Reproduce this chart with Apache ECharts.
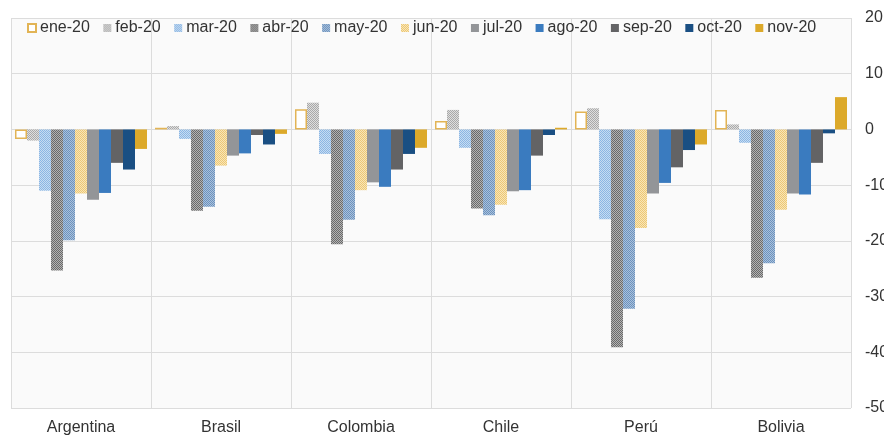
<!DOCTYPE html>
<html>
<head>
<meta charset="utf-8">
<script src="https://cdn.jsdelivr.net/npm/echarts@6/dist/echarts.min.js"></script>
<style>
  html, body { margin: 0; padding: 0; background: #ffffff; }
  #chart { width: 884px; height: 437px; }
</style>
</head>
<body>
<div id="chart"></div>
<script>
// Países y meses
const countries = ['Argentina', 'Brasil', 'Colombia', 'Chile', 'Perú', 'Bolivia'];
const months = ['ene-20', 'feb-20', 'mar-20', 'abr-20', 'may-20', 'jun-20',
                'jul-20', 'ago-20', 'sep-20', 'oct-20', 'nov-20'];

// Variación por país (Argentina, Brasil, Colombia, Chile, Perú, Bolivia)
const ene20 = [-1.7, 0.3, 3.6, 1.5, 3.2, 3.5];
const feb20 = [-2.0, 0.6, 4.8, 3.5, 3.8, 0.9];
const mar20 = [-11.0, -1.7, -4.4, -3.3, -16.1, -2.4];
const abr20 = [-25.3, -14.6, -20.6, -14.2, -39.1, -26.6];
const may20 = [-19.9, -13.9, -16.2, -15.4, -32.2, -24.0];
const jun20 = [-11.5, -6.5, -10.9, -13.5, -17.7, -14.4];
const jul20 = [-12.6, -4.7, -9.5, -11.1, -11.5, -11.5];
const ago20 = [-11.4, -4.3, -10.3, -10.9, -9.6, -11.7];
const sep20 = [-6.0, -1.0, -7.2, -4.7, -6.8, -6.0];
const oct20 = [-7.2, -2.7, -4.4, -1.0, -3.7, -0.7];
const nov20 = [-3.5, -0.8, -3.3, 0.3, -2.7, 5.8];

// Etiquetas del eje de valores
const yTicks = [20, 10, 0, -10, -20, -30, -40, -50];

const seriesValues = [ene20, feb20, mar20, abr20, may20, jun20,
                      jul20, ago20, sep20, oct20, nov20];

// Tramas a cuadros de 1px para los meses rellenos con patrón
function checker(a, b) {
  const c = document.createElement('canvas');
  c.width = 2; c.height = 2;
  const ctx = c.getContext('2d');
  ctx.fillStyle = b; ctx.fillRect(0, 0, 2, 2);
  ctx.fillStyle = a; ctx.fillRect(0, 0, 1, 1); ctx.fillRect(1, 1, 1, 1);
  return { image: c, repeat: 'repeat' };
}

const styles = [
  { color: '#ffffff', borderColor: '#e2b455', borderWidth: 1.5 },
  { color: checker('#a9a9a9', '#dedede') },
  { color: checker('#8cb6e3', '#c6dcf2') },
  { color: checker('#6a6a6a', '#b3b3b3') },
  { color: checker('#6c92be', '#aac1db') },
  { color: checker('#edc874', '#f8e5b8') },
  { color: '#939598' },
  { color: '#3a7bbf' },
  { color: '#636365' },
  { color: '#1a4f83' },
  { color: '#dca92a' }
];

const series = months.map((m, i) => ({
  name: m,
  type: 'bar',
  data: seriesValues[i],
  barGap: '0%',
  barCategoryGap: '5.7%',
  itemStyle: styles[i],
  animation: false
}));

const chart = echarts.init(document.getElementById('chart'), null, { renderer: 'canvas' });
chart.setOption({
  backgroundColor: '#ffffff',
  animation: false,
  textStyle: { fontFamily: 'Liberation Sans, Arial, sans-serif' },
  grid: {
    left: 11, right: 33, top: 18, bottom: 29,
    outerBoundsMode: 'none',
    containLabel: false,
    show: true, backgroundColor: '#fafafa', borderWidth: 0
  },
  legend: {
    data: months,
    left: 27, top: 20,
    padding: 0,
    itemWidth: 8, itemHeight: 8, itemGap: 13.5,
    icon: 'rect',
    textStyle: { fontSize: 16, color: '#333333', padding: [0, 0, 0, -1] }
  },
  xAxis: {
    type: 'category',
    data: countries,
    axisLine: { show: false },
    axisTick: { show: false },
    axisLabel: { fontSize: 16, color: '#333333', margin: 12 },
    splitLine: { show: true, interval: 0, lineStyle: { color: '#dcdcdc', width: 1 } }
  },
  yAxis: {
    type: 'value',
    position: 'right',
    min: -50, max: 20, interval: 10,
    axisLine: { show: false },
    axisTick: { show: false },
    axisLabel: {
      fontSize: 16, color: '#333333', margin: 14,
      formatter: v => yTicks.includes(v) ? String(v) : ''
    },
    splitLine: { show: true, lineStyle: { color: '#dcdcdc', width: 1 } }
  },
  series: series
});
</script>
</body>
</html>
